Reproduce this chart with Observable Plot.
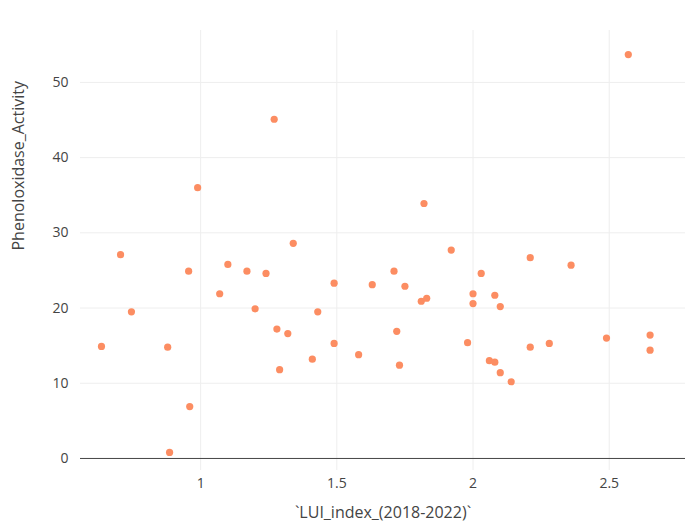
<!DOCTYPE html>
<html><head><meta charset="utf-8">
<script src="https://cdn.jsdelivr.net/npm/d3@7"></script>
<script src="https://cdn.jsdelivr.net/npm/@observablehq/plot@0.6"></script>
<style>body{margin:0;background:#fff;font-family:"Open Sans",sans-serif}</style>
</head><body><div id="chart"></div>
<script>
const lui = [0.636,0.706,0.746,0.879,0.886,0.956,0.96,0.989,1.07,1.10,1.17,1.20,1.24,1.27,1.28,1.29,1.32,1.34,1.41,1.43,1.49,1.49,1.58,1.63,1.71,1.72,1.73,1.75,1.81,1.82,1.83,1.92,1.98,2.00,2.00,2.03,2.06,2.08,2.08,2.10,2.10,2.14,2.21,2.21,2.28,2.36,2.49,2.57,2.65,2.65];
const pox = [14.9,27.1,19.5,14.8,0.8,24.9,6.9,36.0,21.9,25.8,24.9,19.9,24.6,45.1,17.2,11.8,16.6,28.6,13.2,19.5,23.3,15.3,13.8,23.1,24.9,16.9,12.4,22.9,20.9,33.9,21.3,27.7,15.4,21.9,20.6,24.6,13.0,21.7,12.8,20.2,11.4,10.2,26.7,14.8,15.3,25.7,16.0,53.7,16.4,14.4];
const xTicks = [1,1.5,2,2.5];
const yTicks = [0,10,20,30,40,50];
const data = lui.map((x,i)=>({x, y: pox[i]}));

const chart = Plot.plot({
  width: 695, height: 523,
  marginLeft: 80, marginRight: 10, marginTop: 30, marginBottom: 53,
  style: {fontFamily: "Open Sans, sans-serif", fontSize: "13px", color: "#444"},
  x: {domain: [0.559, 2.78], label: null},
  y: {domain: [-1.6, 56.9], label: null},
  marks: [
    Plot.gridX(xTicks, {stroke: "#eee", strokeOpacity: 1}),
    Plot.gridY(yTicks.filter(d => d > 0), {stroke: "#eee", strokeOpacity: 1}),
    Plot.ruleY([0], {stroke: "#444", strokeWidth: 1}),
    Plot.axisX({ticks: xTicks, tickSize: 0, tickPadding: 8, tickFormat: d => String(d), label: null, fontSize: 14}),
    Plot.axisY({ticks: yTicks, tickSize: 0, tickPadding: 12, label: null, fontSize: 14}),
    Plot.dot(data, {x: "x", y: "y", r: 3.6, fill: "#fc8d62", stroke: null}),
    Plot.text(["`LUI_index_(2018-2022)`"], {frameAnchor: "bottom", dy: 47, fontSize: 16, fill: "#444"}),
    Plot.text(["Phenoloxidase_Activity"], {frameAnchor: "left", dx: -62, rotate: -90, fontSize: 16, fill: "#444"})
  ]
});
document.getElementById("chart").append(chart);
</script></body></html>
